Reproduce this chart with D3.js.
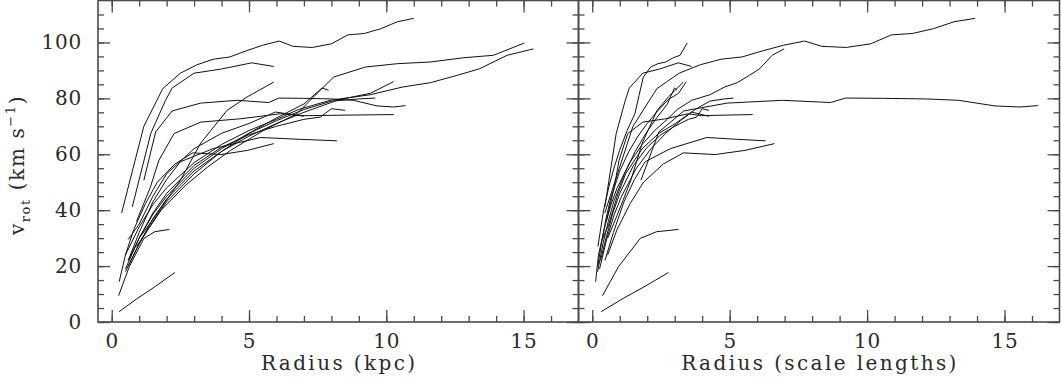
<!DOCTYPE html>
<html>
<head>
<meta charset="utf-8">
<script src="https://cdn.jsdelivr.net/npm/d3@7"></script>
<style>
  body { margin: 0; background: #fff; }
  svg text { font-family: "DejaVu Serif", serif; fill: #2a2a2a; }
</style>
</head>
<body>
<script>
// rotation curves: radius in kpc, rotation velocity in km/s, disc scale length in kpc
const radiusKpc = [
  [0.36, 1.17, 1.86, 2.5, 3.1, 3.7, 4.3, 4.9, 5.5, 6.1, 6.6, 7.3, 8.0, 8.6, 9.2, 9.8, 10.4, 11.0],
  [0.75, 1.42, 1.96, 2.2, 3.0, 4.0, 5.1, 5.9],
  [1.17, 1.6, 2.2, 3.24, 4.57, 5.72, 6.08, 7.0, 8.0, 8.8, 9.66, 10.27, 10.7],
  [0.9, 1.8, 2.7, 3.5, 4.33, 5.54, 6.75, 7.4, 8.08, 9.24, 10.4, 11.6, 12.8, 13.9, 15.03],
  [0.27, 0.5, 1.0, 1.5, 2.0, 3.0, 4.0, 5.0, 6.0, 6.8, 7.96, 9.42, 10.57, 11.6, 12.57, 13.4, 14.4, 15.36],
  [1.0, 1.6, 2.0, 2.5, 3.24, 4.2, 4.93, 5.9],
  [0.6, 1.0, 1.5, 2.0, 3.0, 4.0, 5.0, 6.0, 7.0, 8.27, 9.42, 10.27],
  [0.5, 1.0, 1.5, 2.0, 3.0, 4.0, 5.0, 6.0, 7.0, 8.0, 9.0, 9.6],
  [0.6, 1.0, 1.5, 2.0, 3.0, 4.0, 5.0, 6.0, 7.0, 7.6, 8.0, 8.5],
  [0.5, 1.0, 1.5, 2.0, 3.0, 4.0, 5.0, 6.0, 7.0, 7.66, 7.9],
  [0.9, 1.4, 1.72, 2.27, 3.24, 4.7, 6.15, 7.0, 8.5, 10.27],
  [0.6, 1.0, 1.5, 2.0, 2.5, 3.69, 5.42, 6.5, 8.2],
  [0.5, 0.8, 1.23, 1.66, 2.3, 2.95, 3.98, 4.95, 5.9],
  [0.6, 1.0, 1.5, 2.0, 3.0, 4.0, 5.0, 5.96, 7.0],
  [0.27, 0.9, 1.6, 2.3],
  [0.25, 0.64, 1.17, 1.57, 2.1]
]

const vrotKms = [
  [39, 70, 83.5, 89, 92, 94, 94.8, 97, 99, 100.5, 98.6, 98.2, 99.5, 102.7, 103.2, 104.9, 107.4, 108.6],
  [41.2, 67.4, 79.3, 83.7, 89, 90.5, 92.7, 91.4],
  [50.7, 68, 75.5, 78.3, 79.3, 78.5, 80.1, 80, 79.8, 79.3, 77.3, 76.9, 77.4],
  [27, 40, 49, 55.5, 61.4, 68.6, 74.5, 81, 87.6, 91.2, 92.4, 93, 94.5, 95.4, 99.8],
  [14.4, 24, 34, 42, 48, 57, 63.5, 68.5, 72.5, 76, 79.3, 81.3, 84, 85.6, 88.2, 90.6, 95.4, 97.7],
  [30, 38, 43.6, 50.7, 64, 75.7, 80.5, 85.8],
  [20, 28, 37, 44, 54, 61, 66.5, 71, 75, 79.5, 81.8, 86],
  [19, 30, 38.5, 45, 55, 62, 67.5, 72, 76, 79, 79.8, 80.1],
  [22, 30, 39, 46, 56, 62.5, 67, 70, 72.5, 73.3, 76.3, 75.7],
  [18, 28, 36, 43, 53, 61, 67.5, 73, 78, 83.7, 82.9],
  [36, 48, 57.9, 67.4, 71.5, 72.7, 74.5, 73.8, 74, 74.2],
  [22, 32, 43, 51, 57.3, 62, 66, 65.5, 64.8],
  [24, 33, 42.4, 50, 56.5, 60.5, 59.9, 61.4, 63.8],
  [29.5, 35, 45, 53, 62, 67.5, 71, 75.1, 73.6],
  [3.7, 8.2, 12.8, 17.7],
  [9.4, 19.8, 29.9, 32.3, 33.1]
]

const scaleLength = [0.79, 1.63, 0.66, 4.35, 2.2, 1.78, 3.0, 1.87, 2.0, 2.56, 1.76, 1.3, 0.89, 1.65, 0.83, 0.67]

const xLabelTicks = [0, 5, 10, 15]
const yLabelTicks = [0, 20, 40, 60, 80, 100]
const xMinorTicks = d3.range(0, 17, 1)
const yMinorTicks = d3.range(0, 115, 5)

const W = 1061, H = 383
const plotTop = 0.5, plotBottom = 322
const panels = [
  { x0: 98, x1: 578.5, title: 'Radius (kpc)', scaled: false },
  { x0: 578.5, x1: 1059.5, title: 'Radius (scale lengths)', scaled: true }
]

const svg = d3.select('body').append('svg')
  .attr('width', W)
  .attr('height', H)

const y = d3.scaleLinear().domain([0, 115]).range([plotBottom, plotTop])

const galaxies = radiusKpc.map((r, i) => ({
  h: scaleLength[i],
  pts: r.map((ri, j) => [ri, vrotKms[i][j]])
}))

panels.forEach((p, pi) => {
  const x = d3.scaleLinear().domain([-0.5, 17]).range([p.x0, p.x1])
  const g = svg.append('g').attr('class', 'panel p' + pi)

  // curves
  const line = d3.line()
    .x(d => x(d[0]))
    .y(d => y(d[1]))

  g.selectAll('path.curve')
    .data(galaxies)
    .enter()
    .append('path')
    .attr('class', 'curve')
    .attr('d', d => line(p.scaled ? d.pts.map(q => [q[0] / d.h, q[1]]) : d.pts))
    .attr('fill', 'none')
    .attr('stroke', '#111')
    .attr('stroke-width', 1)

  // ticks, all pointing inward
  const tickAxes = [
    [() => d3.axisBottom(x), 'translate(0,' + plotBottom + ')', xMinorTicks, xLabelTicks],
    [() => d3.axisTop(x), 'translate(0,' + plotTop + ')', xMinorTicks, xLabelTicks],
    [() => d3.axisLeft(y), 'translate(' + p.x0 + ',0)', yMinorTicks, yLabelTicks],
    [() => d3.axisRight(y), 'translate(' + p.x1 + ',0)', yMinorTicks, yLabelTicks]
  ]
  tickAxes.forEach(([mk, tr, minor, major], ai) => {
    g.append('g')
      .attr('transform', tr)
      .call(mk().tickValues(minor).tickSize(-6).tickFormat(''))
      .call(s => s.select('.domain').remove())
    const labelled = (ai === 0) || (ai === 2 && pi === 0)
    g.append('g')
      .attr('transform', tr)
      .call(mk().tickValues(major).tickSize(-12)
        .tickPadding(ai === 0 ? 12 : 16)
        .tickFormat(labelled ? d3.format('d') : ''))
      .call(s => s.select('.domain').remove())
  })

  // frame
  g.append('rect')
    .attr('x', p.x0)
    .attr('y', plotTop)
    .attr('width', p.x1 - p.x0)
    .attr('height', plotBottom - plotTop)
    .attr('fill', 'none')
    .attr('stroke', '#4a4a4a')
    .attr('stroke-width', 1.6)

  g.append('text')
    .attr('x', (p.x0 + p.x1) / 2 + 1)
    .attr('y', 370)
    .attr('text-anchor', 'middle')
    .style('font-size', '20px')
    .style('letter-spacing', '2.4px')
    .text(p.title)
})

svg.selectAll('.tick line')
  .attr('stroke', '#4a4a4a')
  .attr('stroke-width', 1.3)

svg.selectAll('.tick text')
  .attr('fill', '#2a2a2a')
  .style('font-size', '20px')
  .style('letter-spacing', '0.8px')
  .style('font-family', '"DejaVu Serif", serif')

// y axis title: v_rot (km s^-1)
const yt = svg.append('text')
  .attr('transform', 'translate(24,165) rotate(-90)')
  .attr('text-anchor', 'middle')
  .style('font-size', '20px')
  .style('letter-spacing', '1.6px')
yt.append('tspan').text('v')
yt.append('tspan').attr('dy', 6).style('font-size', '13px').text('rot')
yt.append('tspan').attr('dy', -6).text(' (km s')
yt.append('tspan').attr('dy', -9).style('font-size', '13px').text('\u22121')
yt.append('tspan').attr('dy', 9).text(')')
</script>
</body>
</html>
